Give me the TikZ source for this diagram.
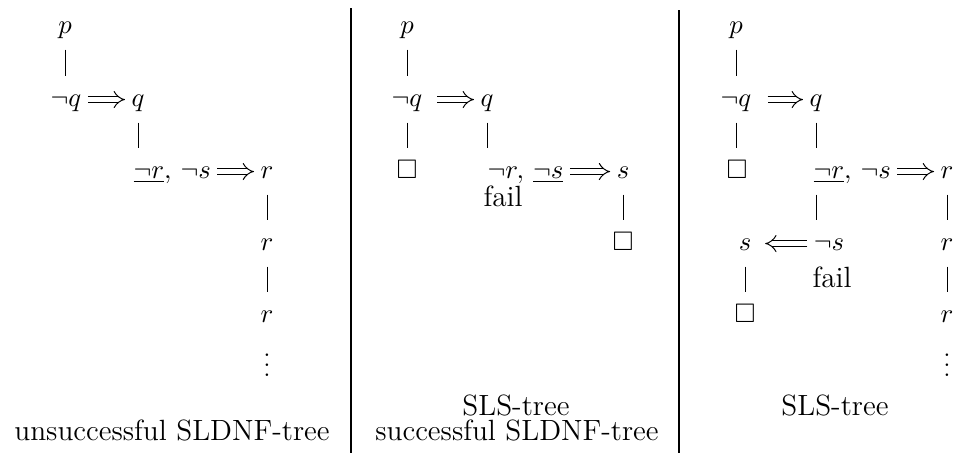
\documentclass[tikz,border=0pt]{standalone}
\usepackage{tikz}
\usetikzlibrary{arrows.meta,positioning}
\usepackage{amssymb}
\usepackage{amsmath}

\begin{document}
\begin{tikzpicture}[x=0.41pt,y=-0.41pt,
  tn/.style={anchor=base,inner xsep=2.5pt,inner ysep=3pt,text height=8.9pt,text depth=3.6pt,
    font=\fontsize{11}{13}\selectfont},
  gl/.style={tn,anchor=base west},
  imp/.style={double,double distance=2.1pt,-{Implies}},
  titel/.style={anchor=base,inner sep=0pt,font=\large},
  trenn/.style={line width=1.2pt}]
%Zeilenhoehen (Grundlinien) in Pixeln des Bildes
  \pgfmathsetmacro{\zI}{33}
  \pgfmathsetmacro{\zII}{106}
  \pgfmathsetmacro{\zIII}{178}
  \pgfmathsetmacro{\zIV}{250}
  \pgfmathsetmacro{\zV}{322}
\useasboundingbox (0,0) rectangle (954,453);
%Trennlinien
\foreach \xt/\yt in {351/8,679/10}{
\draw[trenn] (\xt,\yt) -- (\xt,453);
}
%Baum 1
\node[tn] (p1) at (65,\zI) {$p$};
\node[tn] (nq1) at (66,\zII) {$\neg q$};
\node[tn] (q1) at (138,\zII) {$q$};
\node[gl] (g1) at (127,\zIII) {$\underline{\neg r},\,\neg s$};
\node[tn] (r1) at (267,\zIII) {$r$};
\node[tn] (r1b) at (267,\zIV) {$r$};
\node[tn] (r1c) at (267,\zV) {$r$};
\node[tn] (d1) at (267,376) {$\vdots$};
\node[titel] (c1) at (172,440) {unsuccessful SLDNF-tree};
\draw (p1) -- (p1 |- nq1.north);
\draw (q1) -- (q1 |- g1.north);
\draw (r1) -- (r1b);
\draw (r1b) -- (r1c);
\draw[imp] (nq1) -- (q1);
\draw[imp] (g1) -- (r1);
%Baum 2
\node[tn] (p2) at (407,\zI) {$p$};
\node[tn] (nq2) at (407,\zII) {$\neg q$};
\node[tn] (q2) at (487,\zII) {$q$};
\node[tn] (b2a) at (407,\zIII) {$\Box$};
\node[gl] (g2) at (481,\zIII) {$\neg r,\,\underline{\neg s}$};
\node[tn] (s2) at (623,\zIII) {$s$};
\node[titel] (f2) at (503,206) {fail};
\node[tn] (b2b) at (623,\zIV) {$\Box$};
\node[titel] (c2a) at (516,415) {SLS-tree};
\node[titel] (c2b) at (517,440) {successful SLDNF-tree};
\draw (p2) -- (p2 |- nq2.north);
\draw (nq2) -- (nq2 |- b2a.north);
\draw (q2) -- (q2 |- g2.north);
\draw (s2) -- (b2b);
\draw[imp,shorten <=3.5pt] (nq2) -- (q2);
\draw[imp] (g2) -- (s2);
%Baum 3
\node[tn] (p3) at (736,\zI) {$p$};
\node[tn] (nq3) at (736,\zII) {$\neg q$};
\node[tn] (q3) at (816,\zII) {$q$};
\node[tn] (b3a) at (737,\zIII) {$\Box$};
\node[gl] (g3) at (807,\zIII) {$\underline{\neg r},\,\neg s$};
\node[tn] (r3) at (947,\zIII) {$r$};
\node[tn] (s3) at (745,\zIV) {$s$};
\node[tn] (ns3) at (829,\zIV) {$\neg s$};
\node[tn] (r3b) at (947,\zIV) {$r$};
\node[titel] (f3) at (832,287) {fail};
\node[tn] (b3b) at (745,\zV) {$\Box$};
\node[tn] (r3c) at (947,\zV) {$r$};
\node[tn] (d3) at (947,376) {$\vdots$};
\node[titel] (c3) at (835,415) {SLS-tree};
\draw (p3) -- (p3 |- nq3.north);
\draw (nq3) -- (nq3 |- b3a.north);
\draw (q3) -- (q3 |- g3.north);
\draw (g3.south -| q3) -- (q3 |- ns3.north);
\draw (r3) -- (r3b);
\draw (r3b) -- (r3c);
\draw (s3) -- (b3b);
\draw[imp,shorten <=4pt] (nq3) -- (q3);
\draw[imp] (g3) -- (r3);
\draw[imp,shorten >=3pt] (ns3) -- (s3);
\end{tikzpicture}
\end{document}
